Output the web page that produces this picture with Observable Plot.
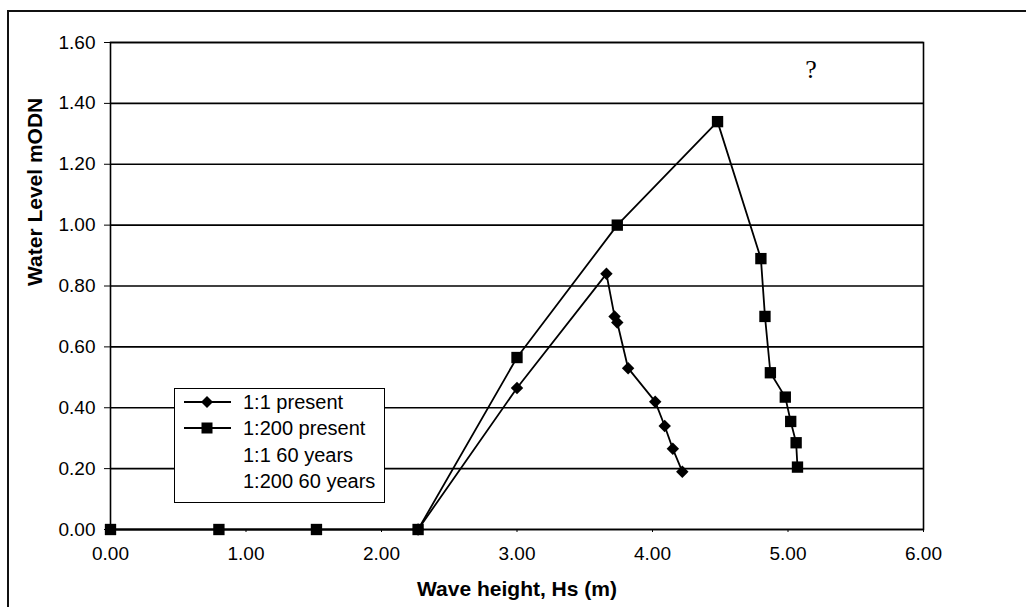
<!DOCTYPE html>
<html><head><meta charset="utf-8">
<script src="https://cdn.jsdelivr.net/npm/d3@7"></script>
<script src="https://cdn.jsdelivr.net/npm/@observablehq/plot@0.6"></script>
<style>
body{margin:0;background:#fff;font-family:"Liberation Sans",Arial,sans-serif;}
#wrap{position:relative;width:1026px;height:607px;overflow:hidden;background:#fff;}
#border{position:absolute;left:7px;top:10px;width:1030px;height:610px;border-left:2px solid #111;border-top:2px solid #111;}
#legend{position:absolute;left:174px;top:388px;width:209px;height:113px;border:1.5px solid #000;background:#fff;font-size:20px;color:#000;}
#legend .row{position:absolute;left:0;height:26px;line-height:26px;white-space:nowrap;}
#legend svg{position:absolute;left:9px;top:0;}
#legend span{position:absolute;left:68px;top:0;}
</style></head><body><div id="wrap"><div id="border"></div></div>
<script>
// ---- data ----
const seriesNames = ["1:1 present", "1:200 present", "1:1 60 years", "1:200 60 years"];
const present1X = [2.27, 3.00, 3.66, 3.72, 3.74, 3.82, 4.02, 4.09, 4.15, 4.22];
const present1Y = [0.00, 0.465, 0.84, 0.70, 0.68, 0.53, 0.42, 0.34, 0.265, 0.19];
const present200X = [0.00, 0.80, 1.52, 2.27, 3.00, 3.74, 4.48, 4.80, 4.83, 4.87, 4.98, 5.02, 5.06, 5.07];
const present200Y = [0.00, 0.00, 0.00, 0.00, 0.565, 1.00, 1.34, 0.89, 0.70, 0.515, 0.435, 0.355, 0.285, 0.205];
const yTicks = [0.0, 0.2, 0.4, 0.6, 0.8, 1.0, 1.2, 1.4, 1.6];
const xTicks = [0, 1, 2, 3, 4, 5, 6];
const xTitle = "Wave height, Hs (m)";
const yTitle = "Water Level mODN";
const noteText = ["?"];
const noteX = [5.17];
const noteY = [1.51];

const rows1 = present1X.map((x, i) => ({x, y: present1Y[i]}));
const rows200 = present200X.map((x, i) => ({x, y: present200Y[i]}));
const notes = noteText.map((t, i) => ({t, x: noteX[i], y: noteY[i]}));

const chart = Plot.plot({
  width: 1026, height: 607,
  marginLeft: 110, marginRight: 103, marginTop: 42, marginBottom: 78,
  style: {fontSize: "19px", fontFamily: "Liberation Sans, Arial, sans-serif", background: "transparent", color: "#000"},
  x: {domain: [0, 6]},
  y: {domain: [0, 1.6]},
  marks: [
    Plot.gridY(yTicks, {stroke: "#000", strokeOpacity: 1, strokeWidth: 1.6}),
    Plot.frame({stroke: "#000", strokeWidth: 1.6}),
    Plot.axisY(yTicks, {tickFormat: d => d.toFixed(2), tickSize: 6, tickPadding: 9, label: null, stroke: "#000"}),
    Plot.axisX(xTicks, {tickFormat: d => d.toFixed(2), tickSize: 3, tickPadding: 14, label: null, stroke: "#000"}),
    Plot.line(rows200, {x: "x", y: "y", stroke: "#000", strokeWidth: 1.8}),
    Plot.line(rows1, {x: "x", y: "y", stroke: "#000", strokeWidth: 1.8}),
    Plot.dot(rows1, {x: "x", y: "y", symbol: "diamond2", r: 5.6, fill: "#000", stroke: "none"}),
    Plot.dot(rows200, {x: "x", y: "y", symbol: "square", r: 6.4, fill: "#000", stroke: "none"}),
    Plot.text(notes, {x: "x", y: "y", text: "t", fontSize: 26, fontFamily: "Liberation Serif, Times New Roman, serif", fill: "#000"}),
    Plot.text([xTitle], {frameAnchor: "bottom", dy: 66, text: d => d, fontWeight: "bold", fontSize: 21, fill: "#000"}),
    Plot.text([yTitle], {frameAnchor: "left", dx: -75, rotate: -90, text: d => d, fontWeight: "bold", fontSize: 21, fill: "#000"})
  ]
});
chart.style.position = "absolute";
chart.style.left = "0px";
chart.style.top = "0px";
const wrap = document.getElementById("wrap");
wrap.appendChild(chart);

// ---- legend (HTML overlay inside plot area) ----
const legend = document.createElement("div");
legend.id = "legend";
const symbols = ["diamond", "square", null, null];
seriesNames.forEach((name, i) => {
  const row = document.createElement("div");
  row.className = "row";
  row.style.top = (i * 26.3) + "px";
  let svg = "";
  if (symbols[i]) {
    const mk = symbols[i] === "square"
      ? '<rect x="17.5" y="7.5" width="11" height="11" fill="#000"/>'
      : '<path d="M23,7 L29,13 L23,19 L17,13 Z" fill="#000"/>';
    svg = '<svg width="50" height="26"><line x1="0" y1="13" x2="47" y2="13" stroke="#000" stroke-width="1.8"/>' + mk + '</svg>';
  }
  row.innerHTML = svg + '<span>' + name + '</span>';
  legend.appendChild(row);
});
wrap.appendChild(legend);
</script>
</body></html>
